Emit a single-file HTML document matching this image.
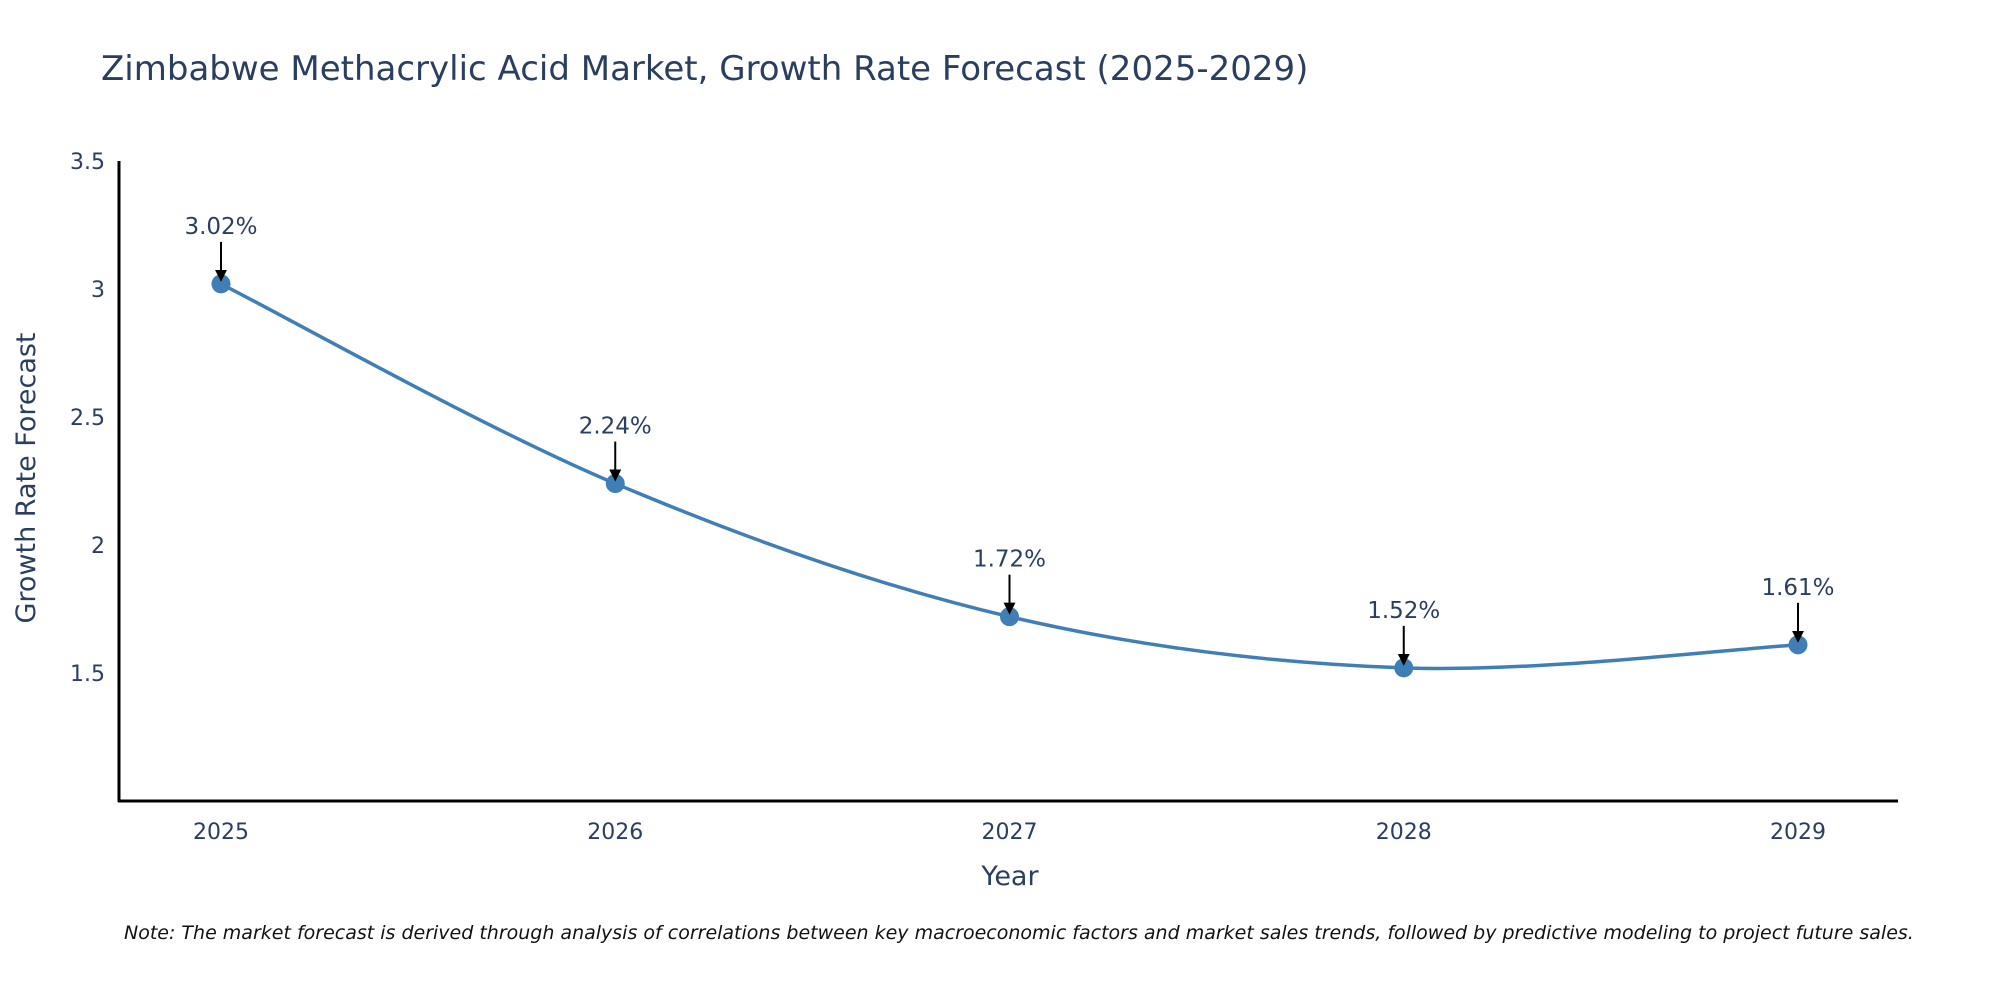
<!DOCTYPE html>
<html><head><meta charset="utf-8"><style>
html,body{margin:0;padding:0;background:#fff;width:2000px;height:1000px;overflow:hidden}
text{font-family:"DejaVu Sans","Liberation Sans",sans-serif}
</style></head><body>
<svg id="chart" width="2000" height="1000" xmlns="http://www.w3.org/2000/svg">
<text x="101" y="80" font-size="34" fill="#2a3f5f">Zimbabwe Methacrylic Acid Market, Growth Rate Forecast (2025-2029)</text>
<g id="axes"></g>
<g id="series"></g>
<text x="1010" y="885" font-size="27" fill="#2a3f5f" text-anchor="middle">Year</text>
<text transform="translate(35,478) rotate(-90)" font-size="27" fill="#2a3f5f" text-anchor="middle">Growth Rate Forecast</text>
<text x="124" y="939" font-size="19" font-style="italic" fill="#111">Note: The market forecast is derived through analysis of correlations between key macroeconomic factors and market sales trends, followed by predictive modeling to project future sales.</text>
</svg>
<script>
const categories = ["2025","2026","2027","2028","2029"];
const values = [3.02, 2.24, 1.72, 1.52, 1.61];
const valueLabels = ["3.02%","2.24%","1.72%","1.52%","1.61%"];
const yTicks = [1.5, 2, 2.5, 3, 3.5];
const yTickLabels = ["1.5","2","2.5","3","3.5"];

(function(){
const NS = "http://www.w3.org/2000/svg";
const plotLeft = 119, plotRight = 1898, plotTop = 161, plotBottom = 801;
const yMin = 1.0, yMax = 3.5;
const x0 = 221, x1 = 1798;
function xs(i){ return x0 + (x1 - x0) * i / (categories.length - 1); }
function ys(v){ return plotBottom - (v - yMin) / (yMax - yMin) * (plotBottom - plotTop); }
function mk(tag, attrs, parent){ const e = document.createElementNS(NS, tag); for (const k in attrs) e.setAttribute(k, attrs[k]); parent.appendChild(e); return e; }

const axes = document.getElementById('axes');
const yAxis = mk('line', {x1:plotLeft, y1:plotTop, x2:plotLeft, y2:plotBottom+1, stroke:'#000', 'stroke-width':3}, axes);


const xAxis = mk('line', {x1:plotLeft-1, y1:plotBottom, x2:plotRight, y2:plotBottom, stroke:'#000', 'stroke-width':3}, axes);


yTicks.forEach((t, i) => {
  const tx = mk('text', {x:plotLeft-14, y:ys(t)+8, 'font-size':22, fill:'#2a3f5f', 'text-anchor':'end'}, axes);
  tx.textContent = yTickLabels[i];
  
  
});
categories.forEach((c, i) => {
  const tx = mk('text', {x:xs(i), y:plotBottom+38, 'font-size':22, fill:'#2a3f5f', 'text-anchor':'middle'}, axes);
  tx.textContent = c;
  
  
});

const series = document.getElementById('series');
const pts = values.map((v, i) => [xs(i), ys(v)]);
let d = 'M' + pts[0][0] + ',' + pts[0][1];
for (let i = 0; i < pts.length - 1; i++) {
  const p0 = pts[i-1] || pts[i], p1 = pts[i], p2 = pts[i+1], p3 = pts[i+2] || p2;
  const t = 1/6;
  const c1 = [p1[0] + (p2[0]-p0[0])*t, p1[1] + (p2[1]-p0[1])*t];
  const c2 = [p2[0] - (p3[0]-p1[0])*t, p2[1] - (p3[1]-p1[1])*t];
  d += ' C' + c1 + ' ' + c2 + ' ' + p2;
}
const line = mk('path', {d:d, fill:'none', stroke:'#3f7fb5', 'stroke-width':3.5}, series);


const defs = mk('defs', {}, series);
const marker = mk('marker', {id:'ah', markerWidth:6, markerHeight:6, refX:5, refY:3, orient:'auto', markerUnits:'strokeWidth'}, defs);
mk('path', {d:'M0,0 L6,3 L0,6 z', fill:'#000'}, marker);
pts.forEach((p, i) => {
  const c = mk('circle', {cx:p[0], cy:p[1], r:9.5, fill:'#3f7fb5'}, series);
  
  
  const a = mk('line', {x1:p[0], y1:p[1]-42, x2:p[0], y2:p[1]-4, stroke:'#000', 'stroke-width':2, 'marker-end':'url(#ah)'}, series);
  
  
  const tx = mk('text', {x:p[0], y:p[1]-50, 'font-size':23, fill:'#2a3f5f', 'text-anchor':'middle'}, series);
  tx.textContent = valueLabels[i];
  
  
});
})();
</script>
</body></html>
